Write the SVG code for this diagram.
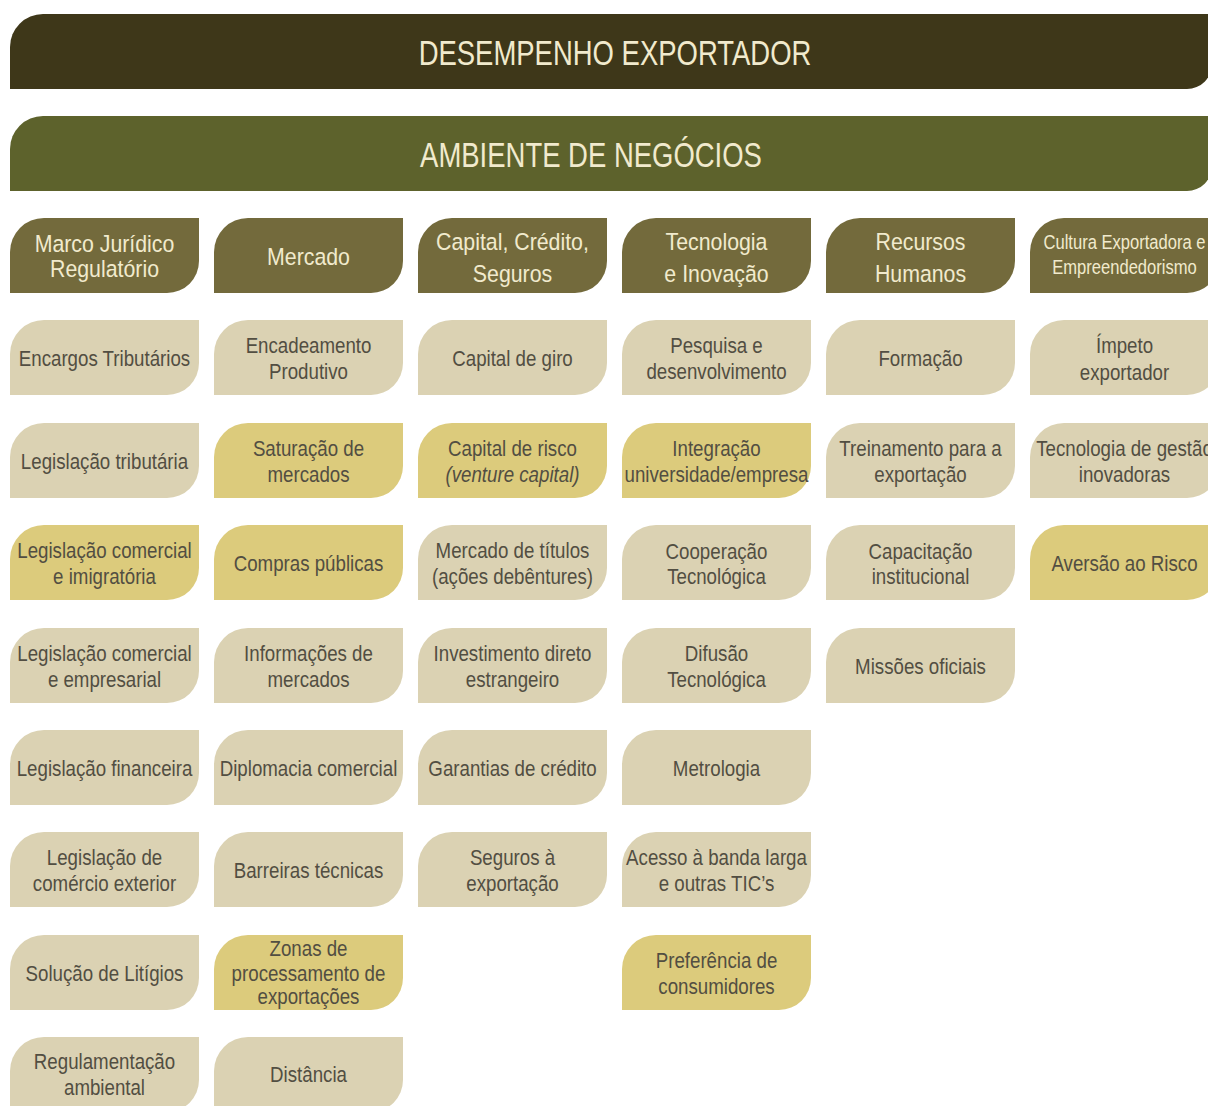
<svg xmlns="http://www.w3.org/2000/svg" xmlns:xlink="http://www.w3.org/1999/xlink" width="1208" height="1106" viewBox="0 0 1208 1106">
<style>
text{font-family:"Liberation Sans",Arial,sans-serif;text-anchor:middle}
.banner1{fill:#3e3719}
.banner2{fill:#5d622c}
.cat{fill:#736a3c}
.lt{fill:#dbd2b3}
.yl{fill:#dccb7c}
.tt{fill:#f1eacd;font-size:35px}
.ht{fill:#f1eacd;font-size:24.5px}
.hs{fill:#f1eacd;font-size:19.5px}
.bt{fill:#524e42;font-size:22px}
.it{font-style:italic}
</style>
<defs>
<path id="leaf" d="M0,75 V34 A34,34 0 0 1 34,0 H189 V43 A32,32 0 0 1 157,75 Z"/>
</defs>
<g id="desempenho">
<path class="banner1" d="M10,89 V47 A33,33 0 0 1 43,14 H1212 V64 A25,25 0 0 1 1187,89 Z"/>
<text class="tt" transform="translate(615,0) scale(0.785,1)" x="0" y="65">DESEMPENHO EXPORTADOR</text>
</g>
<g id="ambiente">
<path class="banner2" d="M10,191 V149 A33,33 0 0 1 43,116 H1212 V166 A25,25 0 0 1 1187,191 Z"/>
<text class="tt" transform="translate(591,0) scale(0.785,1)" x="0" y="167">AMBIENTE DE NEGÓCIOS</text>
</g>
<!-- headers -->
<g id="h1"><use xlink:href="#leaf" x="10" y="218" class="cat"/><g transform="translate(104.5,0) scale(0.87,1)"><text class="ht" x="0" y="252">Marco Jurídico</text><text class="ht" x="0" y="277.5">Regulatório</text></g></g>
<g id="h2"><use xlink:href="#leaf" x="214" y="218" class="cat"/><g transform="translate(308.5,0) scale(0.87,1)"><text class="ht" x="0" y="265">Mercado</text></g></g>
<g id="h3"><use xlink:href="#leaf" x="418" y="218" class="cat"/><g transform="translate(512.5,0) scale(0.87,1)"><text class="ht" x="0" y="250">Capital, Crédito,</text><text class="ht" x="0" y="282">Seguros</text></g></g>
<g id="h4"><use xlink:href="#leaf" x="622" y="218" class="cat"/><g transform="translate(716.5,0) scale(0.87,1)"><text class="ht" x="0" y="250">Tecnologia</text><text class="ht" x="0" y="282">e Inovação</text></g></g>
<g id="h5"><use xlink:href="#leaf" x="826" y="218" class="cat"/><g transform="translate(920.5,0) scale(0.87,1)"><text class="ht" x="0" y="250">Recursos</text><text class="ht" x="0" y="282">Humanos</text></g></g>
<g id="h6"><use xlink:href="#leaf" x="1030" y="218" class="cat"/><g transform="translate(1124.5,0) scale(0.85,1)"><text class="hs" x="0" y="249">Cultura Exportadora e</text><text class="hs" x="0" y="274">Empreendedorismo</text></g></g>
<!-- column 1 -->
<g id="c1r1"><use xlink:href="#leaf" x="10" y="320" class="lt"/><g transform="translate(104.5,0) scale(0.85,1)"><text class="bt" x="0" y="366.5">Encargos Tributários</text></g></g>
<g id="c1r2"><use xlink:href="#leaf" x="10" y="423" class="lt"/><g transform="translate(104.5,0) scale(0.85,1)"><text class="bt" x="0" y="469.5">Legislação tributária</text></g></g>
<g id="c1r3"><use xlink:href="#leaf" x="10" y="525" class="yl"/><g transform="translate(104.5,0) scale(0.85,1)"><text class="bt" x="0" y="558">Legislação comercial</text><text class="bt" x="0" y="584.5">e imigratória</text></g></g>
<g id="c1r4"><use xlink:href="#leaf" x="10" y="628" class="lt"/><g transform="translate(104.5,0) scale(0.85,1)"><text class="bt" x="0" y="661">Legislação comercial</text><text class="bt" x="0" y="687.5">e empresarial</text></g></g>
<g id="c1r5"><use xlink:href="#leaf" x="10" y="730" class="lt"/><g transform="translate(104.5,0) scale(0.85,1)"><text class="bt" x="0" y="776.5">Legislação financeira</text></g></g>
<g id="c1r6"><use xlink:href="#leaf" x="10" y="832" class="lt"/><g transform="translate(104.5,0) scale(0.85,1)"><text class="bt" x="0" y="865">Legislação de</text><text class="bt" x="0" y="891.5">comércio exterior</text></g></g>
<g id="c1r7"><use xlink:href="#leaf" x="10" y="935" class="lt"/><g transform="translate(104.5,0) scale(0.85,1)"><text class="bt" x="0" y="981.5">Solução de Litígios</text></g></g>
<g id="c1r8"><use xlink:href="#leaf" x="10" y="1037" class="lt"/><g transform="translate(104.5,0) scale(0.85,1)"><text class="bt" x="0" y="1069">Regulamentação</text><text class="bt" x="0" y="1095.5">ambiental</text></g></g>
<!-- column 2 -->
<g id="c2r1"><use xlink:href="#leaf" x="214" y="320" class="lt"/><g transform="translate(308.5,0) scale(0.85,1)"><text class="bt" x="0" y="353">Encadeamento</text><text class="bt" x="0" y="379.5">Produtivo</text></g></g>
<g id="c2r2"><use xlink:href="#leaf" x="214" y="423" class="yl"/><g transform="translate(308.5,0) scale(0.85,1)"><text class="bt" x="0" y="456">Saturação de</text><text class="bt" x="0" y="482.5">mercados</text></g></g>
<g id="c2r3"><use xlink:href="#leaf" x="214" y="525" class="yl"/><g transform="translate(308.5,0) scale(0.85,1)"><text class="bt" x="0" y="571.5">Compras públicas</text></g></g>
<g id="c2r4"><use xlink:href="#leaf" x="214" y="628" class="lt"/><g transform="translate(308.5,0) scale(0.85,1)"><text class="bt" x="0" y="661">Informações de</text><text class="bt" x="0" y="687.5">mercados</text></g></g>
<g id="c2r5"><use xlink:href="#leaf" x="214" y="730" class="lt"/><g transform="translate(308.5,0) scale(0.85,1)"><text class="bt" x="0" y="776.5">Diplomacia comercial</text></g></g>
<g id="c2r6"><use xlink:href="#leaf" x="214" y="832" class="lt"/><g transform="translate(308.5,0) scale(0.85,1)"><text class="bt" x="0" y="878.5">Barreiras técnicas</text></g></g>
<g id="c2r7"><use xlink:href="#leaf" x="214" y="935" class="yl"/><g transform="translate(308.5,0) scale(0.85,1)"><text class="bt" x="0" y="956.5">Zonas de</text><text class="bt" x="0" y="981">processamento de</text><text class="bt" x="0" y="1004">exportações</text></g></g>
<g id="c2r8"><use xlink:href="#leaf" x="214" y="1037" class="lt"/><g transform="translate(308.5,0) scale(0.85,1)"><text class="bt" x="0" y="1082">Distância</text></g></g>
<!-- column 3 -->
<g id="c3r1"><use xlink:href="#leaf" x="418" y="320" class="lt"/><g transform="translate(512.5,0) scale(0.85,1)"><text class="bt" x="0" y="366.5">Capital de giro</text></g></g>
<g id="c3r2"><use xlink:href="#leaf" x="418" y="423" class="yl"/><g transform="translate(512.5,0) scale(0.85,1)"><text class="bt" x="0" y="456">Capital de risco</text><text class="bt it" x="0" y="482.5">(venture capital)</text></g></g>
<g id="c3r3"><use xlink:href="#leaf" x="418" y="525" class="lt"/><g transform="translate(512.5,0) scale(0.85,1)"><text class="bt" x="0" y="558">Mercado de títulos</text><text class="bt" x="0" y="584.5">(ações debêntures)</text></g></g>
<g id="c3r4"><use xlink:href="#leaf" x="418" y="628" class="lt"/><g transform="translate(512.5,0) scale(0.85,1)"><text class="bt" x="0" y="661">Investimento direto</text><text class="bt" x="0" y="687.5">estrangeiro</text></g></g>
<g id="c3r5"><use xlink:href="#leaf" x="418" y="730" class="lt"/><g transform="translate(512.5,0) scale(0.85,1)"><text class="bt" x="0" y="776.5">Garantias de crédito</text></g></g>
<g id="c3r6"><use xlink:href="#leaf" x="418" y="832" class="lt"/><g transform="translate(512.5,0) scale(0.85,1)"><text class="bt" x="0" y="865">Seguros à</text><text class="bt" x="0" y="891.5">exportação</text></g></g>
<!-- column 4 -->
<g id="c4r1"><use xlink:href="#leaf" x="622" y="320" class="lt"/><g transform="translate(716.5,0) scale(0.85,1)"><text class="bt" x="0" y="353">Pesquisa e</text><text class="bt" x="0" y="379.5">desenvolvimento</text></g></g>
<g id="c4r2"><use xlink:href="#leaf" x="622" y="423" class="yl"/><g transform="translate(716.5,0) scale(0.85,1)"><text class="bt" x="0" y="456">Integração</text><text class="bt" x="0" y="482.5">universidade/empresa</text></g></g>
<g id="c4r3"><use xlink:href="#leaf" x="622" y="525" class="lt"/><g transform="translate(716.5,0) scale(0.85,1)"><text class="bt" x="0" y="559">Cooperação</text><text class="bt" x="0" y="584">Tecnológica</text></g></g>
<g id="c4r4"><use xlink:href="#leaf" x="622" y="628" class="lt"/><g transform="translate(716.5,0) scale(0.85,1)"><text class="bt" x="0" y="661">Difusão</text><text class="bt" x="0" y="687.5">Tecnológica</text></g></g>
<g id="c4r5"><use xlink:href="#leaf" x="622" y="730" class="lt"/><g transform="translate(716.5,0) scale(0.85,1)"><text class="bt" x="0" y="776.5">Metrologia</text></g></g>
<g id="c4r6"><use xlink:href="#leaf" x="622" y="832" class="lt"/><g transform="translate(716.5,0) scale(0.85,1)"><text class="bt" x="0" y="865">Acesso à banda larga</text><text class="bt" x="0" y="891.5">e outras TIC’s</text></g></g>
<g id="c4r7"><use xlink:href="#leaf" x="622" y="935" class="yl"/><g transform="translate(716.5,0) scale(0.85,1)"><text class="bt" x="0" y="968">Preferência de</text><text class="bt" x="0" y="994.5">consumidores</text></g></g>
<!-- column 5 -->
<g id="c5r1"><use xlink:href="#leaf" x="826" y="320" class="lt"/><g transform="translate(920.5,0) scale(0.85,1)"><text class="bt" x="0" y="366.5">Formação</text></g></g>
<g id="c5r2"><use xlink:href="#leaf" x="826" y="423" class="lt"/><g transform="translate(920.5,0) scale(0.85,1)"><text class="bt" x="0" y="456">Treinamento para a</text><text class="bt" x="0" y="482.5">exportação</text></g></g>
<g id="c5r3"><use xlink:href="#leaf" x="826" y="525" class="lt"/><g transform="translate(920.5,0) scale(0.85,1)"><text class="bt" x="0" y="559">Capacitação</text><text class="bt" x="0" y="584">institucional</text></g></g>
<g id="c5r4"><use xlink:href="#leaf" x="826" y="628" class="lt"/><g transform="translate(920.5,0) scale(0.85,1)"><text class="bt" x="0" y="674">Missões oficiais</text></g></g>
<!-- column 6 -->
<g id="c6r1"><use xlink:href="#leaf" x="1030" y="320" class="lt"/><g transform="translate(1124.5,0) scale(0.85,1)"><text class="bt" x="0" y="353">Ímpeto</text><text class="bt" x="0" y="380">exportador</text></g></g>
<g id="c6r2"><use xlink:href="#leaf" x="1030" y="423" class="lt"/><g transform="translate(1124.5,0) scale(0.85,1)"><text class="bt" x="0" y="456">Tecnologia de gestão</text><text class="bt" x="0" y="482.5">inovadoras</text></g></g>
<g id="c6r3"><use xlink:href="#leaf" x="1030" y="525" class="yl"/><g transform="translate(1124.5,0) scale(0.85,1)"><text class="bt" x="0" y="571.5">Aversão ao Risco</text></g></g>
</svg>
